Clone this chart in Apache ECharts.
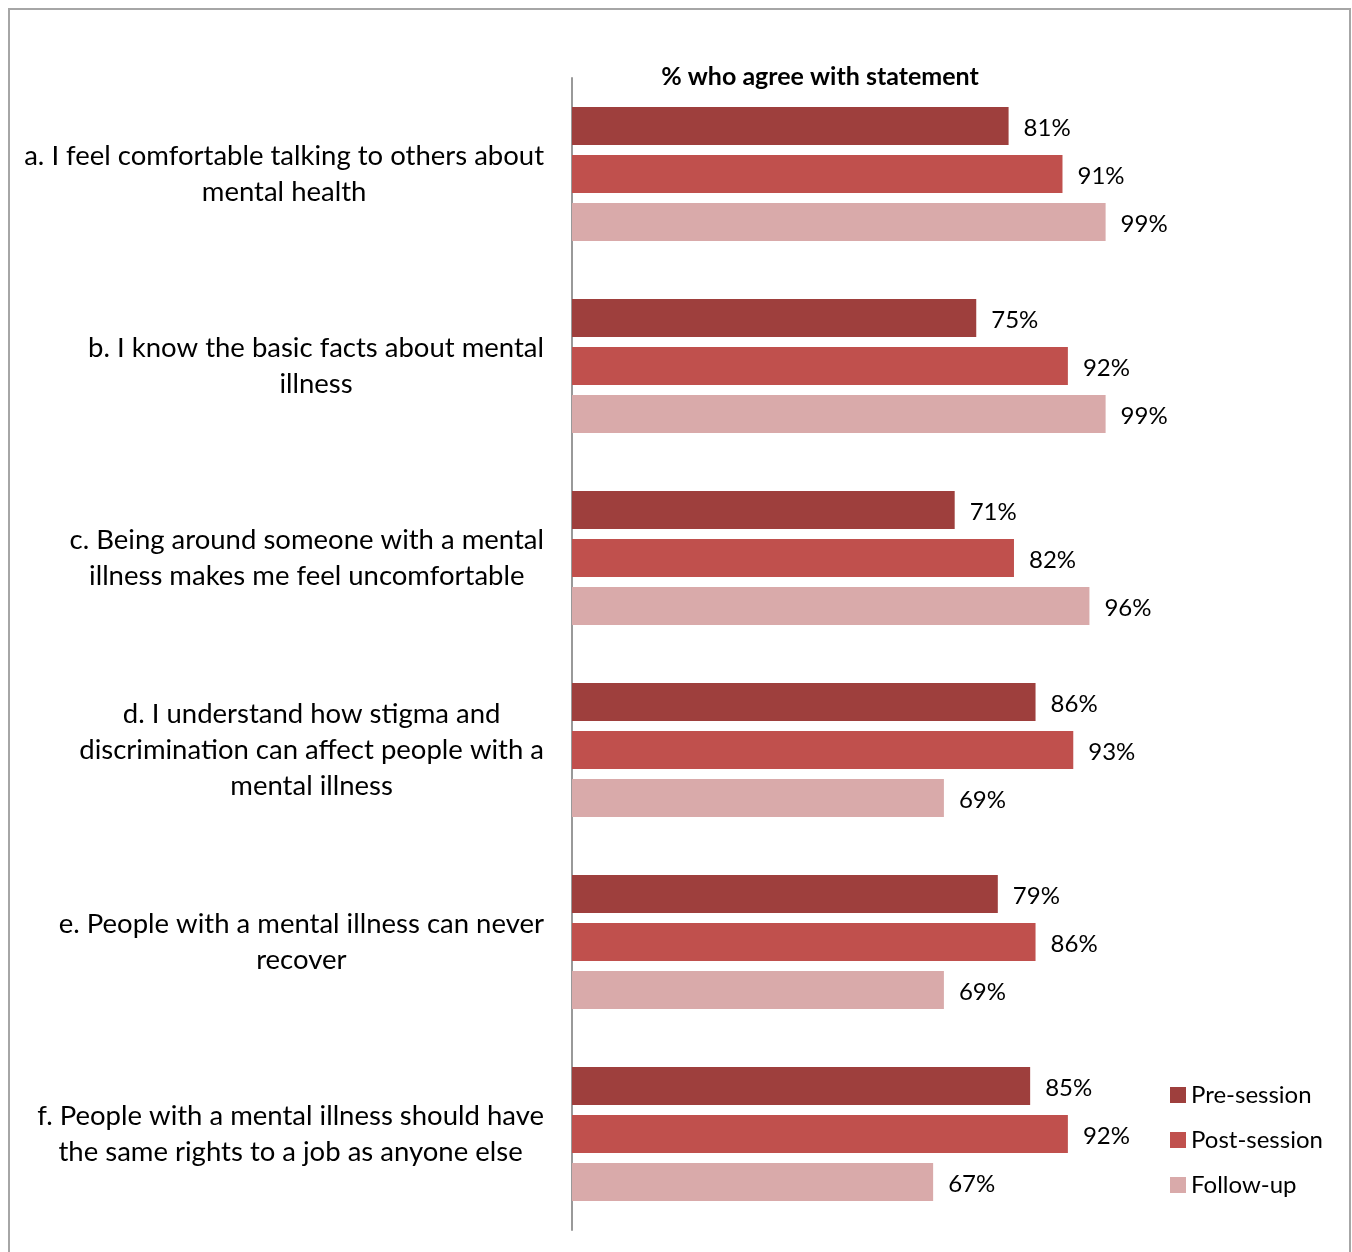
<!DOCTYPE html>
<html><head><meta charset="utf-8">
<style>html,body{margin:0;padding:0;background:#fff}#c{width:1352px;height:1252px}</style>
<script src="https://cdn.jsdelivr.net/npm/echarts@6/dist/echarts.min.js"></script>
</head><body><div id="c"></div>
<script>
const categories = [
  "a. I feel comfortable talking to others about\nmental health",
  "b. I know the basic facts about mental\nillness",
  "c. Being around someone with a mental\nillness makes me feel uncomfortable",
  "d. I understand how stigma and\ndiscrimination can affect people with a\nmental illness",
  "e. People with a mental illness can never\nrecover",
  "f. People with a mental illness should have\nthe same rights to a job as anyone else"
];
const seriesNames = ["Pre-session", "Post-session", "Follow-up"];
const preSession = [81, 75, 71, 86, 79, 85];
const postSession = [91, 92, 82, 93, 86, 92];
const followUp = [99, 99, 96, 69, 69, 67];
const titleText = "% who agree with statement";

const colors = ['#9E3F3D', '#C0504D', '#D9AAAA'];
const FONT = 'Lato, "Open Sans", sans-serif';
const chart = echarts.init(document.getElementById('c'));
const mk = (name, data, i) => ({
  name, type: 'bar', data, barWidth: 38, barGap: '26%',
  itemStyle: { color: colors[i] },
  label: { show: true, position: 'right', distance: 15, formatter: '{c}%',
    color: '#000', fontSize: 24, fontFamily: FONT, offset: [0, 2] }
});
chart.setOption({
  animation: false,
  title: { text: titleText, left: 815, top: 59, textAlign: 'center',
    textStyle: { fontSize: 25, fontWeight: 'bold', color: '#000', fontFamily: FONT } },
  graphic: [{ type: 'rect', shape: { x: 9, y: 9, width: 1341, height: 1270 },
    style: { fill: 'none', stroke: '#A6A6A6', lineWidth: 2 }, z: -1 }],
  legend: { orient: 'vertical', left: 1170, top: 1083, padding: 0, itemWidth: 16, itemHeight: 16,
    itemGap: 21, icon: 'rect', data: seriesNames,
    textStyle: { fontSize: 24, lineHeight: 22, color: '#000', fontFamily: FONT } },
  grid: { left: 572, top: 78, width: 539, height: 1152 },
  xAxis: { type: 'value', min: 0, max: 100, show: false },
  yAxis: { type: 'category', data: categories, inverse: true,
    axisLine: { lineStyle: { color: '#999', width: 2 } },
    axisTick: { show: false },
    axisLabel: { margin: 28, fontSize: 27.5, lineHeight: 36, color: '#000', fontFamily: FONT,
      formatter: v => v.split('\n').map(l => '{c|' + l + '}').join('\n'),
      rich: { c: { align: 'center', fontSize: 27.5, lineHeight: 36, color: '#000', fontFamily: FONT } } } },
  series: [mk(seriesNames[0], preSession, 0), mk(seriesNames[1], postSession, 1), mk(seriesNames[2], followUp, 2)]
});
</script></body></html>
